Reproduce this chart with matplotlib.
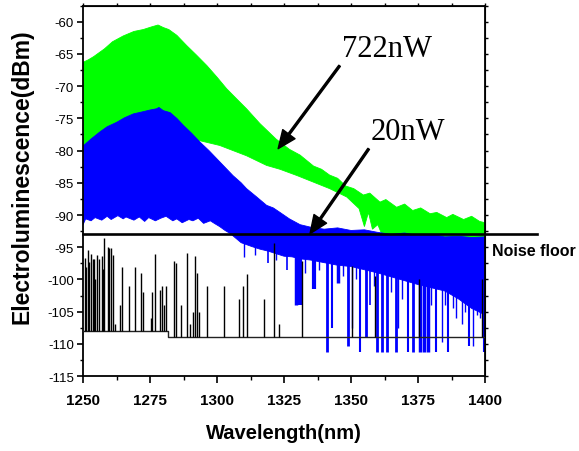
import numpy as np
import matplotlib
matplotlib.use('Agg')
import matplotlib.pyplot as plt

# 722 nW band (upper / lower edges of the noisy trace)
green_hi_wl = [1250, 1252, 1254, 1256, 1258, 1261, 1265, 1269, 1272.5, 1275.5, 1278, 1280,
               1282, 1285, 1288.7, 1292.4, 1296.2, 1300, 1303.6, 1307.4, 1311, 1316, 1322,
               1327, 1331, 1336, 1339, 1342, 1345, 1348, 1351, 1354.6, 1357, 1360.8, 1363,
               1367, 1370, 1373, 1376, 1379.5, 1382, 1385.7, 1388, 1392, 1395, 1398, 1400]
green_hi_db = [-66.3, -65.9, -65.4, -64.8, -64.2, -63.1, -62.2, -61.5, -61.2, -60.8, -60.5, -60.9,
               -61.2, -62.1, -63.7, -65.2, -66.8, -68.6, -70.4, -72.0, -73.5, -75.8, -78.2,
               -79.8, -80.7, -82.4, -82.9, -83.8, -84.3, -85.5, -85.9, -86.9, -86.6, -88.0, -87.6,
               -88.8, -88.3, -89.3, -88.9, -89.8, -89.6, -90.4, -89.9, -90.7, -90.2, -91.0, -91.2]
green_lo_wl = [1250, 1290, 1293, 1301, 1311, 1318.5, 1323.5, 1330, 1336, 1342, 1348.4, 1353,
               1355, 1356.5, 1358, 1360, 1362, 1370, 1380, 1390, 1400]
green_lo_db = [-82.0, -82.0, -78.4, -79.2, -80.8, -82.3, -82.9, -83.9, -84.9, -85.9, -87.2, -89.0,
               -91.8, -89.6, -92.2, -91.5, -93.5, -94.2, -94.5, -94.6, -94.7]

# 20 nW band
blue_hi_wl = [1250, 1253, 1256.3, 1259, 1262.6, 1265.5, 1268.8, 1272, 1275, 1277.5, 1278.3, 1280,
              1282.5, 1285, 1287.5, 1290.5, 1293.7, 1297, 1300, 1303, 1306, 1309, 1311, 1314.8,
              1318.5, 1321, 1323.5, 1327, 1331, 1335, 1340, 1345, 1350, 1355, 1360, 1365,
              1370, 1375, 1380, 1385, 1390, 1395, 1400]
blue_hi_db = [-79.3, -78.2, -77.1, -76.3, -75.6, -74.9, -74.3, -74.0, -73.7, -73.5, -73.3, -73.8,
              -74.1, -75.0, -76.1, -77.3, -78.7, -80.0, -81.3, -82.6, -83.9, -85.0, -85.9, -87.2,
              -88.5, -88.9, -89.6, -90.6, -91.5, -91.9, -92.2, -92.0, -92.4, -92.3, -92.7, -93.0,
              -92.8, -93.2, -93.0, -93.4, -93.3, -93.5, -93.4]
blue_lo_wl = [1250, 1251, 1253, 1254.5, 1257, 1259, 1260.5, 1263, 1265, 1266, 1269, 1271, 1273,
              1274.5, 1277, 1279, 1281, 1283.5, 1285, 1287, 1289.5, 1291, 1293, 1295, 1297.5, 1299,
              1301, 1303, 1305, 1307, 1309, 1311, 1313, 1316, 1319, 1322, 1325, 1328, 1331,
              1335, 1340, 1345, 1350, 1355, 1360, 1365, 1370, 1375, 1380, 1385, 1390, 1395, 1400]
blue_lo_db = [-91.5, -90.6, -90.9, -90.4, -90.8, -90.2, -90.7, -90.1, -90.6, -90.3, -90.8, -90.3,
              -91.0, -90.4, -90.9, -90.5, -90.2, -90.9, -90.6, -91.2, -90.7, -90.9, -90.5, -91.3,
              -90.9, -91.3, -91.8, -92.4, -92.9, -93.6, -94.3, -94.6, -94.9, -95.3, -95.6, -96.0,
              -96.4, -96.5, -96.8, -97.0, -97.4, -97.8, -98.0, -98.5, -99.0, -99.6, -100.2,
              -100.8, -101.3, -101.8, -103.0, -104.5, -105.5]
# deep dips of the 20 nW trace: wavelength, bottom (dBm), line width (pt)
dip_wl = [1310, 1314, 1319, 1322, 1326, 1329.5, 1331, 1333, 1336, 1338, 1341, 1343, 1345.3,
          1347, 1349, 1350.5, 1352, 1353.4, 1355.6, 1357, 1358.5, 1359.7, 1361.7, 1363.4,
          1365, 1366.6, 1367.4, 1369, 1371.3, 1373.1, 1375.8, 1377.3, 1378.8, 1380, 1381.7,
          1383.8, 1385, 1386, 1388, 1389, 1391.3, 1392.5, 1394, 1395.6, 1397, 1398, 1399.5]
dip_db = [-96.5, -96.2, -97.5, -97.0, -98.5, -104, -104, -99, -101.5, -98.5, -111.2, -107.6,
          -100.5, -99.5, -110.3, -107.6, -100, -111.2, -109, -104, -101, -111.2, -111.2, -111.2,
          -102, -111.2, -107.6, -103, -111.2, -111.2, -111.2, -111.2, -111.2, -104, -111.2,
          -109.7, -104, -111.2, -104.5, -106, -107, -105, -110.3, -110.3, -105.5, -106, -111.2]
dip_lw = [1, 1, 1.2, 1, 1.2, 2.5, 3, 1, 3, 1, 2, 1.5, 2.5, 1, 2, 1, 1, 1.5, 2, 1.2, 1, 2, 2,
          2, 1, 2, 1, 1, 1.5, 2, 2.5, 2.5, 2.5, 1, 1.5, 1, 1, 1.5, 1, 1, 1, 1, 1.5, 1, 1, 1, 1.5]

# instrument noise trace (black)
floor_wl = [1250, 1281.6, 1400]
floor_db = [-108, -109, -109]
spike_wl = [1250.7, 1251.1, 1251.7, 1252.4, 1253.0, 1253.6, 1254.1, 1254.6, 1255.3, 1256.0,
            1257.0, 1257.3, 1257.8, 1259.2, 1259.8, 1260.3, 1261.3, 1261.8, 1263.8, 1264.7,
            1267.3, 1269.3, 1271.8, 1272.2, 1275.4, 1275.9, 1276.7, 1278.6, 1279.4, 1280.2,
            1281.0, 1284.1, 1284.6, 1286.5, 1288.9, 1289.9, 1290.9, 1291.9, 1292.4, 1293.3,
            1296.1, 1302.6, 1308.3, 1309.6, 1311.2, 1317.7, 1321.3, 1323.3, 1331.8, 1350.4,
            1359.0, 1375.5, 1399.0]
spike_db = [-96.7, -98.1, -95.4, -97.3, -96.0, -96.9, -96.8, -99.9, -96.2, -96.9,
            -96.3, -98.4, -93.6, -95.0, -95.1, -95.1, -96.2, -107.0, -104.0, -98.1,
            -101.0, -98.1, -99.0, -102.0, -106.0, -102.0, -96.0, -101.6, -101.0, -104.0,
            -101.0, -97.2, -97.5, -103.9, -95.9, -107.0, -105.0, -96.3, -99.0, -105.0,
            -101.0, -101.0, -103.0, -101.0, -99.1, -103.0, -94.3, -107.0, -97.2, -97.9,
            -99.4, -100.0, -99.9]

noise_floor = -93
x_ticks = [1250, 1275, 1300, 1325, 1350, 1375, 1400]
y_ticks = list(range(-115, -59, 5))

plt.rcParams['font.family'] = ['Liberation Sans', 'DejaVu Sans']

fig = plt.figure(figsize=(5.79, 4.52), dpi=100)
ax = fig.add_axes([0.1434, 0.1659, 0.6943, 0.8193])

gx = np.array(green_hi_wl + green_lo_wl[::-1])
gy = np.array(green_hi_db + green_lo_db[::-1])
ax.fill(gx, gy, color='#00ff00', lw=0.6, ec='#00ff00', zorder=1)
bx = np.array(blue_hi_wl + blue_lo_wl[::-1])
by = np.array(blue_hi_db + blue_lo_db[::-1])
ax.fill(bx, by, color='#0000ff', lw=0.6, ec='#0000ff', zorder=2)
ax.vlines(dip_wl, dip_db, -94, colors='#0000ff', linewidths=dip_lw, zorder=2)

ax.plot(floor_wl, floor_db, drawstyle='steps-post', color='#222222', lw=1.0, zorder=3)
spike_base = np.where(np.array(spike_wl) < floor_wl[1], floor_db[0], floor_db[1])
ax.vlines(spike_wl, spike_base, spike_db, colors='black', linewidths=1.0, zorder=3)

ax.plot([1250, 1419.4], [noise_floor, noise_floor], color='black', lw=1.9,
        clip_on=False, zorder=5)
ax.text(1402.6, -96.2, 'Noise floor', fontsize=11.5, fontweight='bold',
        va='baseline', ha='left')

ax.annotate('722nW', xy=(1322.8, -79.7), xytext=(1346.5, -66.4), fontsize=22,
            family=['Liberation Serif'], va='bottom', ha='left',
            arrowprops=dict(facecolor='black', edgecolor='black', width=1.4,
                            headwidth=11, headlength=13, shrink=0))
ax.annotate('20nW', xy=(1334.7, -92.9), xytext=(1357.3, -79.3), fontsize=22,
            family=['Liberation Serif'], va='bottom', ha='left',
            arrowprops=dict(facecolor='black', edgecolor='black', width=1.4,
                            headwidth=11, headlength=13, shrink=0))

ax.set_xlim(1250, 1400)
ax.set_ylim(-115, -57.5)
ax.set_xticks(x_ticks)
ax.set_xticks(np.arange(1262.5, 1400, 25), minor=True)
ax.set_yticks(y_ticks)
ax.set_yticks(np.arange(-112.5, -57, 5), minor=True)
ax.set_xticklabels([str(v) for v in x_ticks], fontsize=11, fontweight='bold')
ax.set_yticklabels([str(v) for v in y_ticks], fontsize=9.5)
ax.tick_params(axis='x', which='major', direction='out', length=5, width=1.2, pad=7)
ax.tick_params(axis='x', which='minor', direction='out', length=3, width=1.0)
ax.tick_params(axis='y', which='major', direction='out', length=4.5, width=1.2, pad=2)
ax.tick_params(axis='y', which='minor', direction='out', length=2.5, width=1.0)
for s in ax.spines.values():
    s.set_linewidth(1.3)

top = ax.secondary_xaxis('top')
top.set_xticks(np.arange(1250, 1401, 12.5))
top.tick_params(length=2, width=1.0, labeltop=False)
right = ax.secondary_yaxis('right')
right.set_yticks(np.arange(-115, -57, 2.5))
right.tick_params(length=2, width=1.0, labelright=False)

ax.set_xlabel('Wavelength(nm)', fontsize=14.5, fontweight='bold', labelpad=12)
ax.set_ylabel('Electroluminescence(dBm)', fontsize=16.5, fontweight='bold')
ax.yaxis.set_label_coords(-0.124, 0.54)

fig.savefig('out.png', dpi=100)
